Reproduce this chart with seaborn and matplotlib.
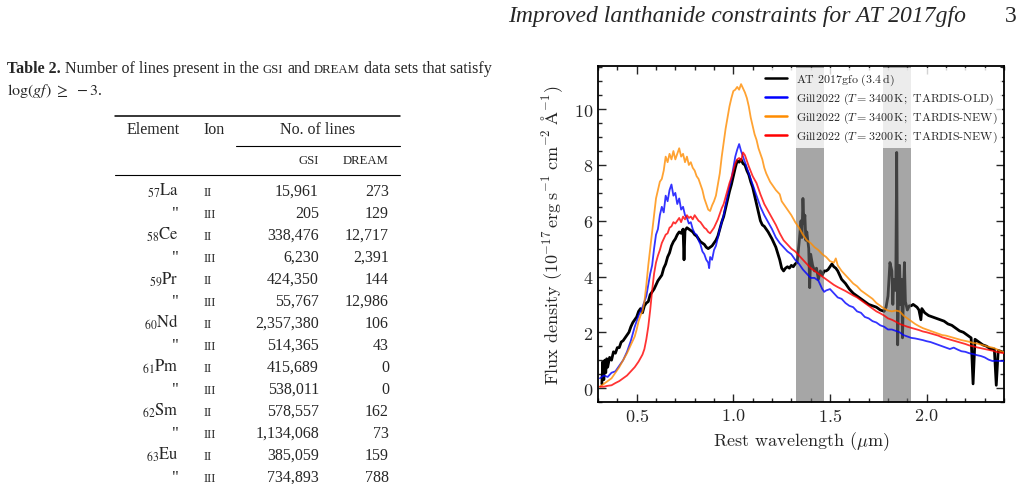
import numpy as np
import matplotlib
matplotlib.use('Agg')
import matplotlib.pyplot as plt
from matplotlib.lines import Line2D
import seaborn as sns

# ---- table data (Table 2) ----
elements = ['57La', '58Ce', '59Pr', '60Nd', '61Pm', '62Sm', '63Eu']
ions = ['II', 'III']
gsi_lines = ['15,961', '205', '338,476', '6,230', '424,350', '55,767', '2,357,380',
             '514,365', '415,689', '538,011', '578,557', '1,134,068', '385,059', '734,893']
dream_lines = ['273', '129', '12,717', '2,391', '144', '12,986', '106',
               '43', '0', '0', '162', '73', '159', '788']

# ---- spectra ----
wl_obs = [0.320, 0.325, 0.330, 0.335, 0.340, 0.345, 0.350, 0.360, 0.370, 0.380, 0.390, 0.400,
          0.410, 0.420, 0.430, 0.440, 0.450, 0.460, 0.470, 0.480, 0.490, 0.500, 0.510, 0.520,
          0.530, 0.540, 0.550, 0.560, 0.570, 0.580, 0.590, 0.600, 0.610, 0.620, 0.630, 0.640,
          0.650, 0.660, 0.670, 0.680, 0.690, 0.700, 0.710, 0.720, 0.730, 0.740, 0.745, 0.750,
          0.760, 0.770, 0.780, 0.790, 0.800, 0.810, 0.820, 0.830, 0.840, 0.850, 0.860, 0.870,
          0.880, 0.890, 0.900, 0.910, 0.920, 0.930, 0.940, 0.950, 0.960, 0.970, 0.980, 0.990,
          1.000, 1.010, 1.020, 1.030, 1.040, 1.050, 1.060, 1.070, 1.080, 1.090, 1.100, 1.120,
          1.140, 1.150, 1.160, 1.180, 1.200, 1.220, 1.240, 1.250, 1.260, 1.270, 1.280, 1.290,
          1.300, 1.310, 1.320, 1.330, 1.340, 1.350, 1.355, 1.360, 1.365, 1.370, 1.375, 1.380,
          1.390, 1.395, 1.400, 1.410, 1.420, 1.430, 1.440, 1.450, 1.460, 1.470, 1.480, 1.490,
          1.500, 1.510, 1.520, 1.530, 1.540, 1.550, 1.560, 1.580, 1.600, 1.620, 1.640, 1.660,
          1.680, 1.700, 1.720, 1.740, 1.760, 1.780, 1.790, 1.800, 1.810, 1.820, 1.825, 1.830,
          1.840, 1.845, 1.850, 1.855, 1.860, 1.865, 1.870, 1.875, 1.880, 1.885, 1.890, 1.900,
          1.910, 1.920, 1.930, 1.950, 1.960, 1.970, 1.975, 1.990, 2.010, 2.030, 2.050, 2.070,
          2.090, 2.110, 2.130, 2.150, 2.170, 2.190, 2.210, 2.230, 2.240, 2.250, 2.270, 2.290,
          2.310, 2.330, 2.350, 2.360, 2.370, 2.390]
flux_obs = [0.15, 0.95, 0.30, 1.00, 0.55, 1.05, 0.75, 1.10, 1.00, 1.30, 1.25, 1.45,
            1.45, 1.65, 1.70, 1.80, 1.90, 2.00, 2.20, 2.35, 2.45, 2.55, 2.75, 2.85,
            2.70, 2.95, 3.05, 3.10, 3.35, 3.45, 3.55, 3.70, 3.85, 3.95, 4.05, 4.30,
            4.45, 4.70, 4.85, 5.10, 5.25, 5.35, 5.50, 5.60, 5.55, 5.70, 4.60, 5.65,
            5.75, 5.70, 5.65, 5.60, 5.50, 5.45, 5.35, 5.25, 5.20, 5.15, 5.05, 5.00,
            5.05, 5.10, 5.20, 5.30, 5.45, 5.70, 5.95, 6.15, 6.45, 6.75, 7.05, 7.30,
            7.60, 7.90, 8.15, 8.10, 8.20, 8.05, 8.00, 7.80, 7.65, 7.40, 7.20, 6.60,
            6.00, 5.85, 5.80, 5.60, 5.35, 5.05, 4.60, 4.30, 4.20, 4.30, 4.35, 4.30,
            4.40, 4.35, 4.45, 4.50, 5.20, 6.00, 5.40, 6.80, 5.90, 6.20, 5.30, 5.60,
            5.00, 3.60, 4.80, 4.40, 4.20, 4.30, 3.90, 4.20, 4.05, 4.20, 4.20, 4.25,
            4.35, 4.45, 4.35, 4.30, 4.20, 4.05, 3.90, 3.75, 3.55, 3.40, 3.30, 3.20,
            3.10, 3.00, 2.95, 2.90, 2.80, 2.75, 2.90, 3.30, 4.50, 4.20, 3.00, 3.90,
            3.50, 8.45, 1.55, 3.50, 4.40, 3.00, 3.90, 1.80, 3.40, 4.50, 3.10, 2.80,
            2.95, 2.95, 3.00, 2.90, 2.80, 2.45, 2.85, 2.70, 2.60, 2.55, 2.50, 2.45,
            2.40, 2.30, 2.25, 2.15, 2.05, 2.00, 1.90, 1.80, 0.15, 1.75, 1.65, 1.55,
            1.50, 1.40, 1.40, 0.10, 1.35, 1.30]

wl_old = [0.31, 0.33, 0.35, 0.37, 0.39, 0.41, 0.43, 0.45, 0.47, 0.49, 0.51, 0.53, 0.55, 0.56,
          0.57, 0.58, 0.59, 0.60, 0.61, 0.62, 0.63, 0.64, 0.65, 0.66, 0.67, 0.68, 0.69, 0.70,
          0.71, 0.72, 0.73, 0.74, 0.75, 0.76, 0.77, 0.78, 0.79, 0.80, 0.81, 0.82, 0.83, 0.84,
          0.85, 0.86, 0.87, 0.875, 0.88, 0.89, 0.90, 0.91, 0.92, 0.93, 0.94, 0.95, 0.96, 0.97,
          0.98, 0.99, 1.00, 1.01, 1.02, 1.03, 1.04, 1.05, 1.06, 1.07, 1.08, 1.10, 1.12, 1.14,
          1.16, 1.18, 1.20, 1.22, 1.24, 1.26, 1.28, 1.30, 1.32, 1.34, 1.36, 1.38, 1.40, 1.42,
          1.44, 1.46, 1.47, 1.48, 1.50, 1.52, 1.54, 1.56, 1.58, 1.60, 1.62, 1.64, 1.66, 1.68,
          1.70, 1.72, 1.74, 1.76, 1.78, 1.80, 1.82, 1.84, 1.86, 1.88, 1.90, 1.92, 1.94, 1.96,
          1.98, 2.00, 2.02, 2.04, 2.06, 2.08, 2.10, 2.12, 2.14, 2.16, 2.18, 2.20, 2.22, 2.24,
          2.26, 2.28, 2.30, 2.32, 2.34, 2.36, 2.38, 2.40]
flux_old = [0.35, 0.45, 0.40, 0.55, 0.60, 0.80, 1.00, 1.30, 1.70, 2.20, 2.60, 2.90, 3.30, 3.70,
            4.10, 4.40, 5.00, 5.50, 5.70, 6.20, 6.50, 6.30, 6.90, 6.70, 7.10, 7.30, 6.90, 7.00,
            6.60, 6.80, 6.40, 6.50, 6.20, 6.10, 5.90, 5.95, 5.70, 5.55, 5.50, 5.30, 5.15, 4.90,
            4.80, 4.60, 4.50, 4.30, 4.70, 4.60, 4.95, 5.10, 5.40, 5.70, 5.95, 6.20, 6.55, 6.90,
            7.20, 7.50, 7.90, 8.30, 8.55, 8.75, 8.50, 8.30, 8.10, 7.90, 7.70, 7.30, 6.90, 6.50,
            6.20, 5.95, 5.70, 5.40, 5.20, 5.05, 4.90, 4.80, 4.60, 4.45, 4.25, 4.10, 3.95, 3.95,
            3.85, 3.55, 3.45, 3.50, 3.55, 3.40, 3.25, 3.20, 3.05, 2.95, 2.90, 2.75, 2.70, 2.55,
            2.50, 2.40, 2.35, 2.25, 2.20, 2.10, 2.10, 2.05, 2.00, 1.90, 1.85, 1.80, 1.78, 1.75,
            1.72, 1.68, 1.65, 1.60, 1.55, 1.50, 1.45, 1.40, 1.45, 1.38, 1.32, 1.30, 1.25, 1.22,
            1.18, 1.15, 1.10, 1.02, 0.97, 0.98, 0.97, 0.97]

wl_new = [0.31, 0.33, 0.35, 0.37, 0.39, 0.41, 0.43, 0.45, 0.47, 0.49, 0.50, 0.51, 0.52, 0.53,
          0.54, 0.55, 0.56, 0.57, 0.58, 0.59, 0.60, 0.61, 0.62, 0.63, 0.64, 0.65, 0.66, 0.67,
          0.68, 0.69, 0.70, 0.71, 0.72, 0.73, 0.74, 0.75, 0.76, 0.77, 0.78, 0.79, 0.80, 0.81,
          0.82, 0.83, 0.84, 0.85, 0.86, 0.87, 0.88, 0.89, 0.90, 0.91, 0.92, 0.93, 0.94, 0.95,
          0.96, 0.97, 0.98, 0.99, 1.00, 1.01, 1.02, 1.03, 1.04, 1.05, 1.06, 1.07, 1.08, 1.09,
          1.10, 1.11, 1.12, 1.13, 1.14, 1.15, 1.16, 1.17, 1.18, 1.19, 1.20, 1.22, 1.24, 1.25,
          1.26, 1.28, 1.30, 1.32, 1.34, 1.36, 1.38, 1.40, 1.42, 1.44, 1.46, 1.48, 1.50, 1.52,
          1.53, 1.54, 1.56, 1.58, 1.60, 1.62, 1.64, 1.66, 1.68, 1.70, 1.72, 1.74, 1.76, 1.78,
          1.80, 1.82, 1.84, 1.86, 1.88, 1.90, 1.92, 1.94, 1.96, 1.98, 2.00, 2.02, 2.04, 2.06,
          2.08, 2.10, 2.12, 2.14, 2.16, 2.18, 2.20, 2.22, 2.24, 2.26, 2.28, 2.30, 2.32, 2.34,
          2.36, 2.38, 2.40]
flux_new = [0.05, 0.15, 0.25, 0.35, 0.55, 0.75, 1.00, 1.25, 1.55, 1.85, 2.10, 2.40, 2.60, 2.75,
            3.10, 3.70, 4.40, 5.00, 5.60, 6.20, 6.80, 7.10, 7.40, 7.50, 7.80, 8.30, 8.10, 8.40,
            8.20, 8.50, 8.20, 8.40, 8.60, 8.30, 8.40, 8.10, 8.30, 8.00, 8.10, 7.90, 7.80, 7.60,
            7.50, 7.30, 7.10, 6.80, 6.60, 6.40, 6.35, 6.55, 6.70, 6.90, 7.30, 7.70, 8.30, 8.80,
            9.30, 9.70, 10.10, 10.40, 10.65, 10.70, 10.80, 10.70, 10.90, 10.75, 10.60, 10.40, 10.10, 9.70,
            9.40, 9.10, 8.90, 8.60, 8.40, 8.20, 7.90, 7.70, 7.55, 7.40, 7.30, 7.10, 6.95, 6.70,
            6.60, 6.40, 6.20, 5.95, 5.75, 5.50, 5.30, 5.20, 5.05, 4.95, 4.80, 4.70, 4.55, 4.50,
            4.65, 4.40, 4.20, 4.05, 3.90, 3.75, 3.65, 3.50, 3.40, 3.30, 3.20, 3.05, 2.95, 2.85,
            2.78, 2.75, 2.78, 2.75, 2.60, 2.50, 2.40, 2.30, 2.22, 2.15, 2.10, 2.05, 2.00, 1.95,
            1.90, 1.88, 1.84, 1.80, 1.76, 1.72, 1.69, 1.66, 1.62, 1.60, 1.56, 1.52, 1.48, 1.45,
            1.40, 1.33, 1.28]

wl_cool = [0.31, 0.33, 0.35, 0.37, 0.39, 0.41, 0.43, 0.45, 0.47, 0.49, 0.51, 0.53, 0.54, 0.55,
           0.56, 0.57, 0.58, 0.59, 0.60, 0.61, 0.62, 0.63, 0.64, 0.65, 0.66, 0.67, 0.68, 0.69,
           0.70, 0.71, 0.72, 0.73, 0.74, 0.75, 0.76, 0.77, 0.78, 0.79, 0.80, 0.81, 0.82, 0.83,
           0.84, 0.85, 0.86, 0.87, 0.88, 0.89, 0.90, 0.91, 0.92, 0.93, 0.94, 0.95, 0.96, 0.97,
           0.98, 0.99, 1.00, 1.01, 1.02, 1.03, 1.04, 1.05, 1.06, 1.07, 1.08, 1.10, 1.12, 1.14,
           1.16, 1.18, 1.20, 1.22, 1.24, 1.26, 1.28, 1.30, 1.32, 1.34, 1.36, 1.38, 1.40, 1.42,
           1.44, 1.46, 1.48, 1.50, 1.52, 1.54, 1.56, 1.58, 1.60, 1.62, 1.64, 1.66, 1.68, 1.70,
           1.72, 1.74, 1.76, 1.78, 1.80, 1.82, 1.84, 1.86, 1.88, 1.90, 1.92, 1.94, 1.96, 1.98,
           2.00, 2.02, 2.04, 2.06, 2.08, 2.10, 2.12, 2.14, 2.16, 2.18, 2.20, 2.22, 2.24, 2.26,
           2.28, 2.30, 2.32, 2.34, 2.36, 2.38, 2.40]
flux_cool = [0.05, 0.05, 0.08, 0.10, 0.18, 0.25, 0.35, 0.45, 0.60, 0.75, 0.95, 1.20, 1.40, 1.75,
             2.20, 2.80, 3.50, 4.10, 4.50, 4.75, 4.95, 5.20, 5.35, 5.50, 5.55, 5.75, 5.80, 5.95,
             5.90, 6.00, 6.10, 5.95, 6.15, 6.05, 6.20, 6.10, 6.15, 6.05, 6.20, 6.10, 6.00, 5.95,
             5.85, 5.75, 5.70, 5.60, 5.55, 5.65, 5.75, 5.90, 6.05, 6.25, 6.45, 6.60, 6.85, 7.10,
             7.35, 7.55, 7.80, 8.05, 8.20, 8.25, 8.15, 8.45, 8.35, 8.15, 7.95, 7.60, 7.35, 6.95,
             6.60, 6.35, 6.10, 5.85, 5.55, 5.30, 5.15, 5.00, 4.90, 4.75, 4.60, 4.45, 4.30, 4.20,
             4.10, 4.00, 3.90, 3.80, 3.70, 3.62, 3.55, 3.48, 3.40, 3.32, 3.25, 3.15, 3.05, 2.95,
             2.85, 2.75, 2.68, 2.60, 2.50, 2.45, 2.38, 2.30, 2.25, 2.20, 2.16, 2.12, 2.08, 2.03,
             2.00, 1.96, 1.92, 1.88, 1.82, 1.78, 1.74, 1.70, 1.66, 1.62, 1.58, 1.53, 1.50, 1.46,
             1.43, 1.40, 1.37, 1.34, 1.30, 1.27, 1.25]

telluric = [(1.325, 1.47), (1.775, 1.92)]

series_labels = [r'AT 2017gfo $(3.4\,\mathrm{d})$',
                 r'Gill2022 $(T = 3400\,\mathrm{K};$ TARDIS-OLD$)$',
                 r'Gill2022 $(T = 3400\,\mathrm{K};$ TARDIS-NEW$)$',
                 r'Gill2022 $(T = 3200\,\mathrm{K};$ TARDIS-NEW$)$']

# ---- style ----
sns.set_theme(style='ticks')
plt.rcParams['font.family'] = 'serif'
plt.rcParams['font.serif'] = ['cmr10', 'DejaVu Serif']
plt.rcParams['mathtext.fontset'] = 'cm'
plt.rcParams['axes.formatter.use_mathtext'] = True
plt.rcParams['axes.unicode_minus'] = True

W, H = 1023, 485
fig = plt.figure(figsize=(W / 100, H / 100), dpi=100)
fig.patch.set_facecolor('white')


def fx(x):
    return x / W


def fy(y):
    return 1 - y / H


TF = 'Liberation Serif'
TS = 11.5
SC = 9.2  # small caps size

# running head
fig.text(fx(966), fy(22), 'Improved lanthanide constraints for AT 2017gfo', ha='right',
         va='baseline', family=TF, style='italic', fontsize=17)
fig.text(fx(1017), fy(22), '3', ha='right', va='baseline', family=TF, fontsize=17)

renderer = fig.canvas.get_renderer()


def inline(pieces, x, y):
    # write pieces one after another on one baseline (pixel coords)
    for txt, kw, gap in pieces:
        t = fig.text(fx(x), fy(y), txt, va='baseline', ha='left', family=TF,
                     math_fontfamily='stix', **kw)
        bb = t.get_window_extent(renderer)
        x = bb.x1 + gap


inline([('Table 2.', dict(fontsize=TS, weight='bold'), 4),
        ('Number of lines present in the', dict(fontsize=TS), 4),
        ('GSI', dict(fontsize=SC), 4),
        ('and', dict(fontsize=TS), 4),
        ('DREAM', dict(fontsize=SC), 4),
        ('data sets that satisfy', dict(fontsize=TS), 0)], 7, 73)
inline([(r'$\log(gf)\ \geq\ -3$.', dict(fontsize=TS), 0)], 7, 95)

# rules
for y0, x0, x1, lw in [(117, 115, 400, 1.1), (147, 236, 400, 0.8), (176, 115, 400, 0.8)]:
    fig.add_artist(Line2D([fx(x0), fx(x1)], [fy(y0), fy(y0)], color='black', lw=lw))

fig.text(fx(153), fy(134), 'Element', ha='center', va='baseline', family=TF, fontsize=TS)
fig.text(fx(214), fy(134), 'Ion', ha='center', va='baseline', family=TF, fontsize=TS)
fig.text(fx(318), fy(134), 'No. of lines', ha='center', va='baseline', family=TF, fontsize=TS)
fig.text(fx(319), fy(164), 'GSI', ha='right', va='baseline', family=TF, fontsize=SC)
fig.text(fx(389), fy(164), 'DREAM', ha='right', va='baseline', family=TF, fontsize=SC)

for i in range(len(gsi_lines)):
    yb = 196 + 22 * i
    el = elements[i // 2]
    if i % 2 == 0:
        lab = r'$_{%s}\mathrm{%s}$' % (el[:2], el[2:])
    else:
        lab = '"'
    fig.text(fx(179), fy(yb), lab, ha='right', va='baseline', family=TF,
             math_fontfamily='stix', fontsize=TS + 0.5)
    fig.text(fx(204), fy(yb), ions[i % 2], ha='left', va='baseline', family=TF, fontsize=SC)
    fig.text(fx(319), fy(yb), gsi_lines[i], ha='right', va='baseline', family=TF, fontsize=TS)
    fig.text(fx(389), fy(yb), dream_lines[i], ha='right', va='baseline', family=TF, fontsize=TS)

# ---- spectrum panel ----
ax = fig.add_axes([fx(598), fy(403), (1004 - 598) / W, (403 - 67) / H])
ax.set_facecolor('white')

sns.lineplot(x=wl_obs, y=flux_obs, ax=ax, color='black', lw=2.0, label=series_labels[0],
             estimator=None, sort=False, zorder=1)
sns.lineplot(x=wl_old, y=flux_old, ax=ax, color='blue', alpha=0.8, lw=1.3,
             label=series_labels[1], estimator=None, sort=False, zorder=3)
sns.lineplot(x=wl_new, y=flux_new, ax=ax, color='darkorange', alpha=0.8, lw=1.3,
             label=series_labels[2], estimator=None, sort=False, zorder=3)
sns.lineplot(x=wl_cool, y=flux_cool, ax=ax, color='red', alpha=0.8, lw=1.3,
             label=series_labels[3], estimator=None, sort=False, zorder=3)

for lo, hi in telluric:
    ax.axvspan(lo, hi, color='#6b6b6b', alpha=0.6, lw=0, zorder=2)

ax.set_xlim(0.3, 2.4)
ax.set_ylim(-0.5, 11.55)
ax.set_xticks([0.5, 1.0, 1.5, 2.0])
ax.set_yticks([0, 2, 4, 6, 8, 10])
ax.xaxis.set_minor_locator(matplotlib.ticker.MultipleLocator(0.1))
ax.yaxis.set_minor_locator(matplotlib.ticker.MultipleLocator(0.5))
ax.tick_params(which='both', direction='in', top=True, right=True, labelsize=13, width=1.0)
ax.tick_params(which='major', length=6)
ax.tick_params(which='minor', length=3)
for s in ax.spines.values():
    s.set_linewidth(1.3)
    s.set_color('black')

ax.set_xlabel(r'Rest wavelength ($\mu$m)', fontsize=13)
ax.set_ylabel(r'Flux density $(10^{-17}\,\mathrm{erg\;s^{-1}\;cm^{-2}\;\AA^{-1}})$',
              fontsize=13, labelpad=6)

leg = ax.legend(loc='upper right', fontsize=8.6, frameon=True, framealpha=0.8,
                edgecolor='none', fancybox=False, handlelength=1.8, borderaxespad=0.15,
                labelspacing=0.3, borderpad=0.35)
for h in leg.legend_handles:
    h.set_linewidth(1.8)
    h.set_alpha(1.0)

fig.savefig('out.png', dpi=100, facecolor='white')
